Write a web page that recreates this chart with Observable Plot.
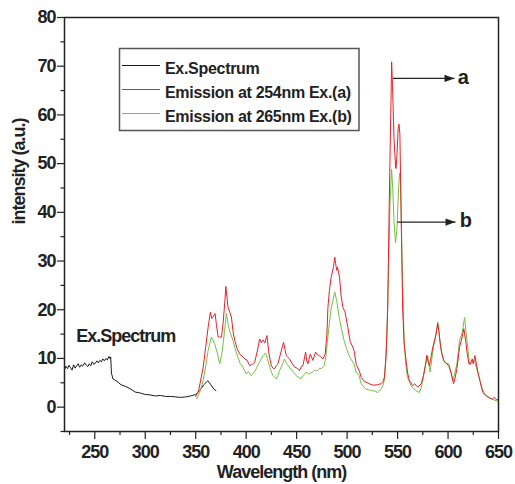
<!DOCTYPE html>
<html><head><meta charset="utf-8">
<script src="https://cdn.jsdelivr.net/npm/d3@7"></script>
<script src="https://cdn.jsdelivr.net/npm/@observablehq/plot@0.6"></script>
<style>
body{margin:0;background:#fff}
#chart{position:relative;width:515px;height:484px}
</style>
</head><body><div id="chart"></div>
<script>
// ---- data ----
const exWave = [220,221.5,223,224.5,226,227.5,229,230.5,232,233.5,235,236.5,238,240,241.5,243,244.5,246,247.5,249,250.5,252,253.5,255,256.5,258,259.5,261,262.5,264,265,265.8,266.5,268,272,276,280,285,290,295,300,305,310,315,320,325,330,335,340,345,350,354,358,362,365,368,370];
const exInt  = [7.7,8.4,7.9,8.6,8.1,7.6,8.7,8.0,8.5,8.9,8.2,8.7,8.4,9.1,8.6,8.3,8.9,8.5,9.3,8.8,9.0,9.5,9.1,9.6,9.3,9.9,9.5,10.0,9.7,10.4,10.0,10.3,7.0,5.8,5.3,4.6,4.3,3.8,3.1,2.9,2.6,2.5,2.3,2.4,2.2,2.2,2.1,2.0,2.1,2.3,2.6,3.4,4.6,5.4,4.6,3.7,3.4];

const aWave = [350,353,357.4,360,362.3,364.6,366,367.2,369.2,370.5,372.2,375.5,377.1,379,379.8,381,382.1,385.4,387,388.7,391,393.6,396,398.6,401,403.5,406,408.4,411,413.4,415,416.7,418.5,420.6,422.6,424.9,426.5,428.2,430,431.5,434.8,437.1,438.5,439.7,441.5,443,445.5,448,450.5,452.9,454.5,456.2,458.9,460,461.2,463.5,466.1,468.8,470.5,472.1,474,476,478.3,480,481,482.5,484.2,486.5,487.8,488.6,489.8,490.5,492.5,494,495.8,498,500.7,503,505.7,507,509,512.3,514,517,522,526,530,533.6,535.5,536.9,538.5,540.2,542,543.5,544.1,545,546.5,548,548.5,549.5,550.5,551.4,552.3,553.5,555,556.5,558.4,560,561.7,565,567,570,573.4,575.6,577.5,578.9,580,581.6,584.9,587.6,589.9,591,592.3,594,595.6,598,600.8,603,605.5,607,608.8,611.4,613.5,615.7,617.4,619,620.7,622,624,625,626.6,628,629.6,632,634.5,638,641.2,644,646,648,650];
const aInt  = [2.2,3.5,8.2,12.5,16.4,19.5,18.2,18.5,19.2,17.0,14.4,14.4,17.1,22.0,24.8,22.5,20.5,18.5,15.5,13.7,12.0,10.9,10.5,9.9,9.6,8.5,8.8,9.2,11.5,14.0,13.2,13.8,13.2,14.7,10.9,8.5,8.0,7.9,8.6,8.9,11.6,13.3,11.8,10.6,10.2,9.9,9.0,8.2,8.0,7.5,8.3,8.5,11.3,9.5,8.9,10.9,9.6,11.3,10.8,10.6,10.3,9.9,10.9,15,20.5,24,26.7,28.8,30.8,29.5,28.1,28.7,26.7,23,20.5,19.5,16.4,13.5,12.3,11.5,8.8,7.3,6.1,5.3,4.8,4.5,4.6,4.8,5.2,6.1,10,20,45,63,70.9,66,55,49.5,49.0,52,57,58.1,56,40,20.5,13,9.6,7,5.5,4.4,4.8,4.1,4.8,6.5,8.5,10.6,9.5,8.5,12.3,14.4,17.1,15.5,13.0,10.8,9.6,9.0,8.5,7.0,4.8,6.0,7.9,12.3,14.0,16.1,13.7,11,8.9,8.8,9.9,8.9,10.6,9.0,7.2,5.0,3.0,2.3,1.9,1.7,2.0,1.5,1.6];

const bWave = [350.8,354,357.4,360,362.3,365.6,368.8,371.2,373.8,376.4,378.5,380.4,382,383.6,386.9,389,391.9,394,396.8,398.5,400.1,402,405,407.5,410,412.5,414.9,417,419.1,421,422.4,424.5,426.4,429.7,431.5,433,435.5,437.9,440,442.8,446,449.4,452,454.3,456.5,459.3,462,465.8,468,470,472.4,475,477.3,479,480.6,483.9,486,487.8,490,492.1,494.5,497,499.5,501.9,504,506.8,508.9,511.8,514,516.5,518.9,522,525.5,528,530.4,532,533.7,535.5,537,539.3,541,542.5,544.1,545.2,546.5,548,549.5,551,552,553,554.5,556.5,558,559.8,562,564.2,566,568.2,571.5,573.5,575.6,577.5,579.9,582.2,585.5,587.5,589.9,591.5,593.2,596.5,598.5,600.8,603,604.8,606.5,608.8,611.4,614,616.4,618.7,621.4,624,626.3,628.5,631.3,633.5,636.2,639.5,642.8,645.5,647.8,650];
const bInt  = [1.7,3.0,5.5,8.5,11.6,14.4,13.0,11.3,8.9,11.6,15.5,19.2,17.2,15.7,13.7,12.0,10.2,9.0,8.2,7.5,6.8,7.3,6.5,7.0,7.9,9.0,9.9,10.6,11.1,10.0,8.9,7.5,6.5,5.8,6.5,7.5,8.6,9.9,9.0,8.2,7.4,6.5,6.1,5.8,6.5,7.2,6.8,7.2,7.6,7.4,7.9,8.0,8.5,10.5,13.7,19.9,22.0,23.6,21.5,18.5,16.0,13.7,12.0,10.6,9.8,8.9,7.2,6.5,4.8,4.2,3.7,3.5,3.4,3.2,3.0,3.3,3.7,4.5,5.5,13.7,28,42,48.8,45,38,33.7,37,45,48.0,46,30,13.7,9,6.1,5.0,4.1,3.8,3.4,3.0,4.0,6.1,8.5,10.6,7.2,12.3,14.5,17.5,14.5,11.6,9.2,9.0,8.9,7.2,5.5,6.8,8.9,13.7,15.2,18.4,13.7,8.9,9.2,9.6,7.8,5.8,4.0,2.7,2.1,1.7,1.5,1.3,1.2];

const seriesNames  = ["Ex.Spectrum", "Emission at 254nm Ex.(a)", "Emission at 265nm Ex.(b)"];
const seriesColors = ["#1a1a1a", "#e8202a", "#74c043"];

const xMajorTicks = [250,300,350,400,450,500,550,600,650];
const xMinorTicks = [225,275,325,375,425,475,525,575,625];
const yMajorTicks = [0,10,20,30,40,50,60,70,80];
const yMinorTicks = [-5,5,15,25,35,45,55,65,75];

// arrow annotations (data coordinates)
const annLabels = ["a", "b"];
const annY      = [67.5, 38.0];
const annX1     = [545.5, 549.6];
const annX2     = [606.4, 607.4];
const annLabelX = [609.6, 611.6];

const exLabel = "Ex.Spectrum";
const exLabelX = 231.6, exLabelY = 14.6;

// ---- build ----
const rows = (w, v) => w.map((x, i) => ({x, y: v[i]}));
const ex = rows(exWave, exInt), a = rows(aWave, aInt), b = rows(bWave, bInt);
const ann = annLabels.map((l, i) => ({l, y: annY[i], x1: annX1[i], x2: annX2[i], lx: annLabelX[i]}));

const headSymbol = {draw(ctx, size) { ctx.moveTo(0, 0); ctx.lineTo(-10, -3.6); ctx.lineTo(-10, 3.6); ctx.closePath(); }};
const font = "'Liberation Sans', Arial, Helvetica, sans-serif";

const plot = Plot.plot({
  width: 515, height: 484,
  marginLeft: 64, marginRight: 17, marginTop: 17, marginBottom: 53,
  x: {domain: [220, 650]},
  y: {domain: [-5, 80]},
  style: {fontFamily: font, fontWeight: "bold", background: "#fff", color: "#222", overflow: "visible"},
  marks: [
    Plot.axisX({ticks: xMinorTicks, tickSize: 4, text: null, label: null, stroke: "#222", strokeWidth: 1.2}),
    Plot.axisX({ticks: xMajorTicks, tickSize: 8, tickPadding: 6, label: null, tickFormat: d => String(d), fontSize: 18, fontWeight: "bold", stroke: "#222", strokeWidth: 1.2, fill: "#222"}),
    Plot.axisY({ticks: yMinorTicks, tickSize: 3.5, text: null, label: null, stroke: "#222", strokeWidth: 1.2}),
    Plot.axisY({ticks: yMajorTicks, tickSize: 7, tickPadding: 2, label: null, tickFormat: d => String(d), fontSize: 18, fontWeight: "bold", stroke: "#222", strokeWidth: 1.2, fill: "#222"}),
    Plot.line(ex, {x: "x", y: "y", stroke: seriesColors[0], strokeWidth: 1}),
    Plot.line(b, {x: "x", y: "y", stroke: seriesColors[2], strokeWidth: 1}),
    Plot.line(a, {x: "x", y: "y", stroke: seriesColors[1], strokeWidth: 1}),
    Plot.link(ann, {x1: "x1", x2: "x2", y1: "y", y2: "y", stroke: "#222", strokeWidth: 1.2}),
    Plot.dot(ann, {x: "x2", y: "y", symbol: headSymbol, fill: "#222", stroke: null, r: 5}),
    Plot.text(ann, {x: "lx", y: "y", text: "l", textAnchor: "start", fontSize: 20, fontWeight: "bold", fill: "#222", dy: -1}),
    Plot.text([exLabel], {x: exLabelX, y: exLabelY, textAnchor: "start", fontSize: 18, fontWeight: "bold", fill: "#222"}),
    Plot.text(["Wavelength (nm)"], {frameAnchor: "bottom", lineAnchor: "middle", dy: 41, fontSize: 18, fontWeight: "bold", fill: "#222"}),
    Plot.text(["intensity (a.u.)"], {frameAnchor: "left", lineAnchor: "middle", dx: -45, rotate: -90, fontSize: 18, fontWeight: "bold", fill: "#222"}),
    Plot.frame({stroke: "#222", strokeWidth: 1.5})
  ]
});
// tighter glyph spacing like the original
plot.querySelectorAll("text").forEach(t => t.style.letterSpacing = "-1px");

// legend drawn on top of the svg
const svg = d3.select(plot);
const lg = svg.append("g").attr("font-family", font).attr("font-weight", "bold").attr("font-size", 16).attr("text-anchor", "start");
lg.append("rect").attr("x", 119.5).attr("y", 48.5).attr("width", 239.5).attr("height", 82)
  .attr("fill", "#fff").attr("stroke", "#555").attr("stroke-width", 1.5);
seriesNames.forEach((name, i) => {
  const yy = 65.5 + i * 24;
  lg.append("line").attr("x1", 122).attr("x2", 160).attr("y1", yy).attr("y2", yy)
    .attr("stroke", seriesColors[i]).attr("stroke-width", 1.2);
  lg.append("text").attr("x", 165).attr("y", yy + 8.5).attr("fill", "#222").attr("text-anchor", "start")
    .style("letter-spacing", "-0.3px").text(name);
});

document.getElementById("chart").appendChild(plot);
</script>
</body></html>
